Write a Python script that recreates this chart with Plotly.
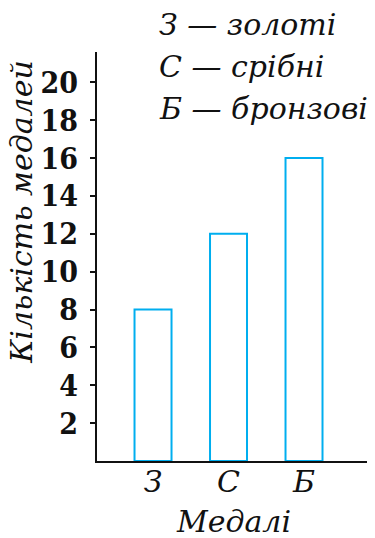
import plotly.graph_objects as go

# ── Data ──────────────────────────────────────────────────────────────────────
categories = ["З", "С", "Б"]
medals = [8, 12, 16]
tick_vals = [2, 4, 6, 8, 10, 12, 14, 16, 18, 20]
legend_lines = ["З — золоті", "С — срібні", "Б — бронзові"]
x_title = "Медалі"
y_title = "Кількість медалей"

SERIF = "DejaVu Serif"
DIGITS = "DejaVu Serif Condensed"
INK = "#111111"
BAR = "#00aeef"

# the page adds an 8px body margin, so the figure is 8px smaller than the window
fig = go.Figure(go.Bar(
    x=list(range(len(categories))), y=medals,
    width=0.49,
    marker=dict(color="rgba(0,0,0,0)", line=dict(color=BAR, width=2)),
    showlegend=False, hoverinfo="skip",
))

fig.update_layout(
    width=367, height=530,
    paper_bgcolor="white", plot_bgcolor="white",
    margin=dict(l=89, r=5, t=44, b=77),
    font=dict(family=SERIF, color=INK),
    xaxis=dict(
        range=[-0.742, 2.874],
        tickvals=list(range(len(categories))),
        ticktext=[f"<i>{c}</i>" for c in categories],
        tickfont=dict(size=30),
        ticks="", ticklabelstandoff=-7,
        showgrid=False, zeroline=False, automargin=False,
        showline=True, linecolor=INK, linewidth=2,
    ),
    yaxis=dict(
        range=[0, 21.6],
        tickvals=tick_vals,
        ticktext=[f"<b>{v}</b>" for v in tick_vals],
        tickfont=dict(family=DIGITS, size=30),
        ticks="outside", ticklen=5, tickwidth=1.5, tickcolor=INK,
        ticklabelstandoff=6,
        showgrid=False, zeroline=False, automargin=False,
        showline=True, linecolor=INK, linewidth=2,
    ),
)

# key for the letters
for i, line in enumerate(legend_lines):
    fig.add_annotation(
        xref="paper", yref="paper",
        x=0.22, y=1.068 - i * 0.1025,
        xanchor="left", yanchor="middle",
        text=f"<i>{line}</i>", showarrow=False,
        font=dict(family=SERIF, size=30, color=INK),
    )

# axis titles
fig.add_annotation(
    xref="paper", yref="paper", x=0.5, y=-0.147,
    xanchor="center", yanchor="middle",
    text=f"<i>{x_title}</i>", showarrow=False,
    font=dict(family=SERIF, size=30, color=INK),
)
fig.add_annotation(
    xref="paper", yref="paper", x=-0.275, y=0.609,
    xanchor="center", yanchor="middle", textangle=-90,
    text=f"<i>{y_title}</i>", showarrow=False,
    font=dict(family=SERIF, size=30, color=INK),
)

fig.write_html("out.html")
